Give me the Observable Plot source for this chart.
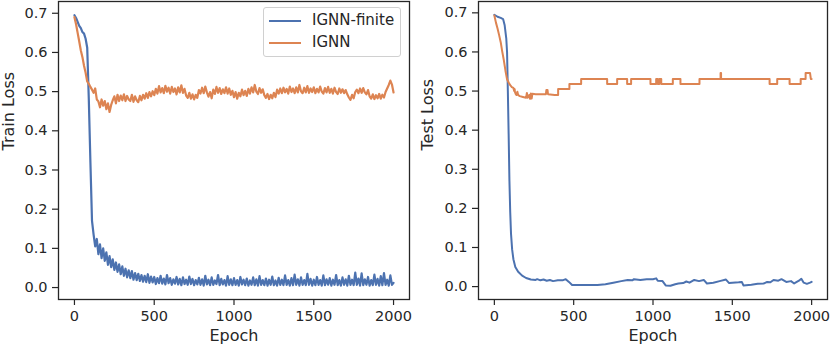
<!DOCTYPE html>
<html>
<head>
<meta charset="utf-8">
<script src="https://cdn.jsdelivr.net/npm/d3@7"></script>
<script src="https://cdn.jsdelivr.net/npm/@observablehq/plot@0.6"></script>
<style>
  html, body { margin: 0; padding: 0; background: white; }
  #wrap { position: relative; width: 831px; height: 349px; font-family: "DejaVu Sans", sans-serif; color: #262626; }
  #left, #right { position: absolute; top: 0; }
  #left { left: 0; }
  #right { left: 415px; }
  #legend { position: absolute; left: 263px; top: 7px; width: 136px; height: 48px; border: 1px solid #d0d0d0; border-radius: 3px; background: rgba(255,255,255,0.85); font-size: 15px; }
  .row { position: absolute; left: 0; height: 20px; }
  .row svg { position: absolute; left: 4px; top: 0; }
  .row span { position: absolute; left: 48px; top: 0px; white-space: nowrap; }
</style>
</head>
<body>
<div id="wrap">
  <div id="left"></div>
  <div id="right"></div>
  <div id="legend"></div>
</div>
<script>
const seriesNames = ["IGNN-finite", "IGNN"];
const seriesColors = ["#4c72b0", "#dd8452"];
const xTicks = [0, 500, 1000, 1500, 2000];
const yTicks = [0, 0.1, 0.2, 0.3, 0.4, 0.5, 0.6, 0.7];

// Train loss, sampled every 10 epochs (0..2000)
const trainEpochs = d3.range(0, 2001, 10);
const trainIGNN = [
  0.690, 0.672, 0.650, 0.628, 0.605, 0.588, 0.566, 0.548, 0.526, 0.520,
  0.512, 0.505, 0.497, 0.508, 0.480, 0.475, 0.460, 0.480, 0.464, 0.476,
  0.455, 0.470, 0.448, 0.466, 0.478, 0.488, 0.470, 0.492, 0.476, 0.490,
  0.478, 0.493, 0.476, 0.489, 0.480, 0.476, 0.492, 0.474, 0.488, 0.478,
  0.473, 0.489, 0.478, 0.492, 0.482, 0.496, 0.484, 0.499, 0.488, 0.501,
  0.491, 0.507, 0.495, 0.514, 0.498, 0.509, 0.496, 0.515, 0.500, 0.510,
  0.495, 0.512, 0.499, 0.508, 0.493, 0.511, 0.498, 0.516, 0.497, 0.507,
  0.490, 0.484, 0.497, 0.482, 0.493, 0.480, 0.492, 0.484, 0.504, 0.495,
  0.510, 0.496, 0.513, 0.498, 0.487, 0.499, 0.483, 0.505, 0.494, 0.512,
  0.497, 0.509, 0.494, 0.506, 0.496, 0.511, 0.495, 0.508, 0.492, 0.502,
  0.486, 0.499, 0.482, 0.497, 0.488, 0.505, 0.491, 0.502, 0.489, 0.507,
  0.495, 0.511, 0.498, 0.517, 0.500, 0.494, 0.509, 0.497, 0.506, 0.491,
  0.484, 0.494, 0.481, 0.492, 0.483, 0.497, 0.486, 0.505, 0.495, 0.508,
  0.496, 0.510, 0.498, 0.507, 0.495, 0.513, 0.499, 0.508, 0.496, 0.511,
  0.498, 0.517, 0.501, 0.496, 0.510, 0.498, 0.514, 0.497, 0.508, 0.499,
  0.511, 0.496, 0.507, 0.498, 0.513, 0.500, 0.495, 0.509, 0.498, 0.512,
  0.497, 0.507, 0.495, 0.510, 0.499, 0.494, 0.508, 0.497, 0.506, 0.496,
  0.504, 0.493, 0.485, 0.479, 0.492, 0.483, 0.499, 0.505, 0.496, 0.508,
  0.497, 0.509, 0.498, 0.493, 0.504, 0.488, 0.482, 0.493, 0.481, 0.491,
  0.483, 0.494, 0.482, 0.492, 0.485, 0.499, 0.508, 0.517, 0.528, 0.518,
  0.498
];
const trainIGNNfinite = [
  0.695, 0.688, 0.678, 0.668, 0.662, 0.652, 0.648, 0.635, 0.612, 0.480,
  0.320, 0.170, 0.135, 0.105, 0.124, 0.085, 0.110, 0.075, 0.100, 0.068,
  0.090, 0.058, 0.080, 0.052, 0.072, 0.045, 0.064, 0.040, 0.059, 0.034,
  0.054, 0.030, 0.048, 0.026, 0.044, 0.024, 0.042, 0.020, 0.037, 0.019,
  0.035, 0.017, 0.032, 0.015, 0.030, 0.014, 0.034, 0.012, 0.028, 0.013,
  0.027, 0.009, 0.024, 0.011, 0.030, 0.010, 0.023, 0.008, 0.032, 0.011,
  0.024, 0.007, 0.021, 0.010, 0.027, 0.008, 0.022, 0.006, 0.026, 0.009,
  0.020, 0.007, 0.028, 0.009, 0.022, 0.006, 0.019, 0.008, 0.025, 0.007,
  0.021, 0.005, 0.030, 0.008, 0.020, 0.006, 0.026, 0.007, 0.018, 0.009,
  0.032, 0.006, 0.022, 0.008, 0.019, 0.005, 0.029, 0.007, 0.021, 0.006,
  0.024, 0.007, 0.019, 0.005, 0.027, 0.008, 0.020, 0.006, 0.023, 0.005,
  0.018, 0.007, 0.026, 0.006, 0.021, 0.005, 0.029, 0.007, 0.019, 0.006,
  0.023, 0.005, 0.020, 0.007, 0.028, 0.006, 0.018, 0.005, 0.025, 0.007,
  0.020, 0.006, 0.031, 0.007, 0.019, 0.005, 0.024, 0.006, 0.033, 0.007,
  0.021, 0.005, 0.026, 0.007, 0.019, 0.006, 0.035, 0.007, 0.022, 0.005,
  0.020, 0.006, 0.027, 0.007, 0.019, 0.005, 0.031, 0.006, 0.021, 0.007,
  0.024, 0.005, 0.020, 0.007, 0.032, 0.006, 0.019, 0.005, 0.026, 0.007,
  0.021, 0.005, 0.030, 0.007, 0.020, 0.006, 0.038, 0.007, 0.023, 0.005,
  0.036, 0.006, 0.021, 0.007, 0.027, 0.005, 0.019, 0.006, 0.033, 0.007,
  0.022, 0.005, 0.029, 0.006, 0.037, 0.007, 0.020, 0.005, 0.031, 0.007,
  0.012
];

// Test loss, read at irregular epochs
const testFiniteEpochs = [0,20,40,55,65,75,80,85,90,95,100,105,112,120,132,150,175,200,230,260,270,290,310,330,350,370,400,430,450,470,490,550,650,700,750,800,840,870,880,920,960,1000,1020,1030,1060,1080,1110,1140,1160,1190,1210,1230,1260,1290,1320,1340,1380,1420,1460,1480,1540,1560,1570,1620,1660,1700,1720,1740,1760,1790,1810,1840,1870,1890,1920,1935,1950,1970,1990,2000];
const testFiniteValues = [0.695,0.690,0.687,0.684,0.668,0.635,0.600,0.500,0.390,0.270,0.190,0.135,0.095,0.070,0.050,0.038,0.028,0.022,0.018,0.017,0.019,0.016,0.018,0.015,0.017,0.014,0.016,0.016,0.019,0.012,0.004,0.004,0.004,0.006,0.010,0.014,0.017,0.016,0.019,0.017,0.019,0.019,0.021,0.015,0.014,0.003,0.002,0.006,0.008,0.009,0.013,0.010,0.017,0.014,0.017,0.008,0.010,0.014,0.018,0.009,0.011,0.012,0.003,0.005,0.007,0.008,0.012,0.011,0.017,0.015,0.019,0.012,0.014,0.008,0.015,0.020,0.010,0.007,0.010,0.012];

const testIGNNEpochs = [0,10,20,30,40,50,60,70,80,90,100,110,120,125,128,130,135,140,145,150,160,180,200,205,210,220,225,230,235,240,260,300,325,328,335,338,380,402,402,473,473,547,547,711,711,774,774,837,837,862,862,984,984,1020,1020,1030,1030,1040,1040,1052,1052,1125,1125,1173,1173,1293,1293,1426,1426,1429,1429,1735,1735,1783,1783,1861,1861,1931,1931,1962,1962,1990,1995,2000];
const testIGNNValues = [0.693,0.675,0.660,0.643,0.625,0.600,0.578,0.552,0.530,0.522,0.515,0.510,0.508,0.500,0.505,0.497,0.492,0.490,0.498,0.490,0.487,0.485,0.483,0.495,0.483,0.490,0.480,0.494,0.481,0.493,0.492,0.492,0.492,0.503,0.503,0.492,0.490,0.490,0.505,0.505,0.518,0.518,0.531,0.531,0.518,0.518,0.531,0.531,0.518,0.518,0.531,0.531,0.518,0.518,0.531,0.531,0.518,0.518,0.531,0.531,0.518,0.518,0.531,0.531,0.518,0.518,0.531,0.531,0.546,0.546,0.531,0.531,0.518,0.518,0.531,0.531,0.518,0.518,0.531,0.531,0.546,0.546,0.531,0.531];

const trainData = [
  ...trainEpochs.map((e, i) => ({epoch: e, loss: trainIGNNfinite[i], s: seriesNames[0]})),
  ...trainEpochs.map((e, i) => ({epoch: e, loss: trainIGNN[i], s: seriesNames[1]}))
];
const testData = [
  ...testFiniteEpochs.map((e, i) => ({epoch: e, loss: testFiniteValues[i], s: seriesNames[0]})),
  ...testIGNNEpochs.map((e, i) => ({epoch: e, loss: testIGNNValues[i], s: seriesNames[1]}))
];

function panel(data, yLabel, opts) {
  return Plot.plot({
    width: opts.width,
    height: 349,
    marginLeft: opts.marginLeft,
    marginRight: opts.marginRight,
    marginTop: 1,
    marginBottom: 50,
    style: {fontFamily: "DejaVu Sans, sans-serif", fontSize: "14.5px", color: "#262626", background: "white", overflow: "visible"},
    x: {domain: [-100, 2100]},
    y: {domain: opts.yDomain},
    color: {domain: seriesNames, range: seriesColors},
    marks: [
      Plot.line(data, {x: "epoch", y: "loss", z: "s", stroke: "s", strokeWidth: opts.lineWidth, strokeLinejoin: "round"}),
      Plot.frame({stroke: "#262626", strokeWidth: 1.3}),
      Plot.axisX({ticks: xTicks, tickFormat: d => String(d), tickSize: 6, tickPadding: 5, label: null, strokeWidth: 1.2}),
      Plot.axisY({ticks: yTicks, tickFormat: ".1f", tickSize: 6, tickPadding: 5, label: null, strokeWidth: 1.2}),
      Plot.text([yLabel], {frameAnchor: "left", dx: opts.labelDx, rotate: -90, fontSize: 16, fill: "#262626"}),
      Plot.text(["Epoch"], {frameAnchor: "bottom", dy: 41, fontSize: 16, fill: "#262626"})
    ]
  });
}

document.getElementById("left").appendChild(panel(trainData, "Train Loss", {width: 415, marginLeft: 58, marginRight: 6, yDomain: [-0.0305, 0.73], labelDx: -50, lineWidth: 2.2}));
document.getElementById("right").appendChild(panel(testData, "Test Loss", {width: 416, marginLeft: 63, marginRight: 4, yDomain: [-0.033, 0.729], labelDx: -51, lineWidth: 2}));

const legend = document.getElementById("legend");
seriesNames.forEach((name, i) => {
  const row = document.createElement("div");
  row.className = "row";
  row.style.top = (3 + i * 22) + "px";
  row.style.width = "100%";
  row.innerHTML = `<svg width="34" height="20"><line x1="1" x2="33" y1="10" y2="10" stroke="${seriesColors[i]}" stroke-width="2"/></svg><span>${name}</span>`;
  legend.appendChild(row);
});
</script>
</body>
</html>
